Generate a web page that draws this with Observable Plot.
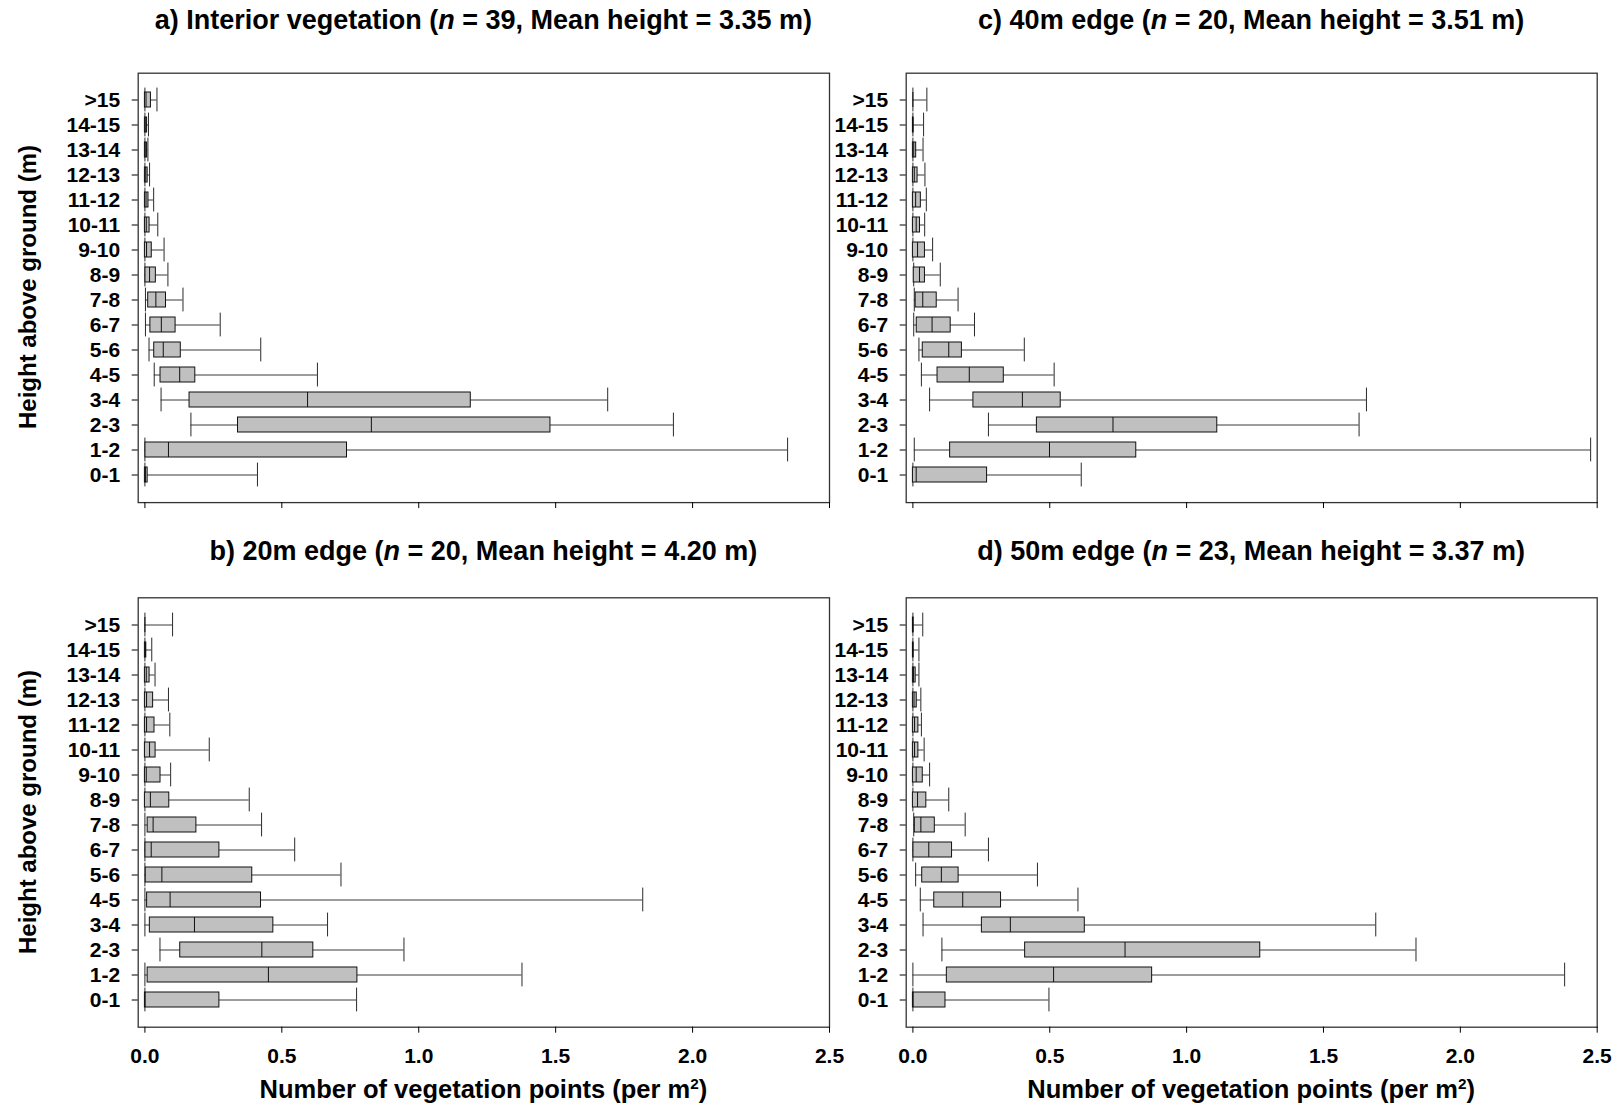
<!DOCTYPE html>
<html><head><meta charset="utf-8">
<script src="https://cdn.jsdelivr.net/npm/d3@7"></script>
<script src="https://cdn.jsdelivr.net/npm/@observablehq/plot@0.6"></script>
<style>
body{margin:0;background:#fff;}
#root{position:relative;width:1619px;height:1108px;overflow:hidden;font-family:"Liberation Sans",Arial,sans-serif;font-weight:bold;color:#000;background:#fff;}
.t{position:absolute;white-space:nowrap;transform:translate(-50%,-50%);font-size:27px;line-height:1;}
.xt{position:absolute;white-space:nowrap;transform:translate(-50%,-50%);font-size:25.5px;line-height:1;}
.yt{position:absolute;white-space:nowrap;transform:translate(-50%,-50%) rotate(-90deg);font-size:24px;line-height:1;}
.panel{position:absolute;}
sup{font-size:0.6em;vertical-align:super;line-height:0;}
</style></head><body><div id="root"></div>
<script>
// Height classes, top to bottom
const heightClasses = [">15","14-15","13-14","12-13","11-12","10-11","9-10","8-9","7-8","6-7","5-6","4-5","3-4","2-3","1-2","0-1"];
const xTicks = [0, 0.5, 1.0, 1.5, 2.0, 2.5];
const panelTitles = [
  "a) Interior vegetation (<i>n</i> = 39, Mean height = 3.35 m)",
  "b) 20m edge (<i>n</i> = 20, Mean height = 4.20 m)",
  "c) 40m edge (<i>n</i> = 20, Mean height = 3.51 m)",
  "d) 50m edge (<i>n</i> = 23, Mean height = 3.37 m)"
];
const xTitle = "Number of vegetation points (per m<sup>2</sup>)";
const yTitle = "Height above ground (m)";

// a) Interior vegetation
const aLo  = [0, 0, 0, 0, 0, 0, 0, 0, 0.002, 0.002, 0.015, 0.034, 0.059, 0.168, 0, 0];
const aQ1  = [0, 0, 0, 0, 0, 0, 0, 0.002, 0.012, 0.020, 0.034, 0.057, 0.163, 0.340, 0.002, 0];
const aMed = [0.004, 0.003, 0.003, 0.003, 0.004, 0.005, 0.006, 0.017, 0.040, 0.060, 0.067, 0.127, 0.594, 0.827, 0.086, 0.002];
const aQ3  = [0.022, 0.008, 0.008, 0.010, 0.013, 0.017, 0.025, 0.040, 0.077, 0.112, 0.131, 0.184, 1.190, 1.481, 0.738, 0.010];
const aHi  = [0.044, 0.013, 0.011, 0.017, 0.032, 0.047, 0.070, 0.084, 0.139, 0.275, 0.423, 0.630, 1.690, 1.930, 2.347, 0.411];

// b) 20m edge
const bLo  = [0, 0, 0, 0, 0, 0, 0, 0, 0, 0, 0, 0, 0, 0.055, 0, 0];
const bQ1  = [0, 0, 0, 0, 0, 0, 0, 0, 0.010, 0.002, 0.003, 0.008, 0.018, 0.129, 0.010, 0];
const bMed = [0, 0.002, 0.005, 0.006, 0.006, 0.017, 0.005, 0.020, 0.030, 0.023, 0.062, 0.092, 0.181, 0.427, 0.451, 0.001];
const bQ3  = [0, 0.005, 0.017, 0.030, 0.035, 0.039, 0.057, 0.089, 0.188, 0.272, 0.392, 0.424, 0.469, 0.615, 0.776, 0.272];
const bHi  = [0.101, 0.025, 0.037, 0.086, 0.091, 0.235, 0.094, 0.381, 0.426, 0.547, 0.716, 1.818, 0.667, 0.946, 1.377, 0.773];

// c) 40m edge
const cLo  = [0, 0, 0, 0, 0, 0, 0, 0.003, 0.005, 0.003, 0.022, 0.031, 0.061, 0.276, 0.005, 0];
const cQ1  = [0, 0, 0, 0, 0, 0, 0, 0.003, 0.010, 0.014, 0.036, 0.090, 0.221, 0.453, 0.136, 0];
const cMed = [0, 0, 0.003, 0.005, 0.010, 0.012, 0.017, 0.024, 0.036, 0.070, 0.131, 0.206, 0.400, 0.731, 0.499, 0.012];
const cQ3  = [0, 0.002, 0.012, 0.017, 0.029, 0.026, 0.044, 0.044, 0.087, 0.138, 0.179, 0.332, 0.540, 1.112, 0.816, 0.271];
const cHi  = [0.051, 0.039, 0.037, 0.044, 0.049, 0.043, 0.072, 0.100, 0.165, 0.225, 0.407, 0.516, 1.657, 1.630, 2.476, 0.615];

// d) 50m edge
const dLo  = [0, 0, 0, 0, 0, 0, 0, 0, 0.003, 0, 0.010, 0.027, 0.037, 0.106, 0, 0];
const dQ1  = [0, 0, 0, 0, 0, 0, 0, 0, 0.007, 0.002, 0.034, 0.078, 0.252, 0.410, 0.124, 0];
const dMed = [0, 0, 0.002, 0.004, 0.006, 0.006, 0.012, 0.017, 0.029, 0.058, 0.104, 0.182, 0.356, 0.775, 0.514, 0.001];
const dQ3  = [0.002, 0.002, 0.010, 0.014, 0.020, 0.020, 0.036, 0.049, 0.080, 0.143, 0.167, 0.322, 0.628, 1.269, 0.874, 0.119];
const dHi  = [0.036, 0.022, 0.022, 0.029, 0.031, 0.041, 0.061, 0.131, 0.191, 0.276, 0.455, 0.603, 1.691, 1.838, 2.381, 0.497];

const root = document.getElementById("root");
const FONT = '"Liberation Sans", Arial, sans-serif';

function panel(lo, q1, med, q3, hi, o) {
  const rows = heightClasses.map((h, i) => ({h, lo: lo[i], q1: q1[i], med: med[i], q3: q3[i], hi: hi[i]}));
  const svg = Plot.plot({
    width: o.width, height: o.height,
    marginLeft: o.mL, marginRight: o.mR, marginTop: o.mT, marginBottom: o.mB,
    style: {fontFamily: FONT, fontSize: "21px", fontWeight: "bold", color: "#000", background: "transparent", overflow: "visible"},
    x: {domain: [-0.0245, 2.5]},
    y: {type: "band", domain: heightClasses, paddingInner: 0.4, paddingOuter: 0.7},
    marks: [
      Plot.ruleY(rows, {y: "h", x1: "lo", x2: "hi", stroke: "#3a3a3a", strokeWidth: 1}),
      Plot.tickX(rows, {x: "lo", y: "h", insetTop: -4.4, insetBottom: -4.4, stroke: "#2a2a2a", strokeWidth: 1}),
      Plot.tickX(rows, {x: "hi", y: "h", insetTop: -4.4, insetBottom: -4.4, stroke: "#2a2a2a", strokeWidth: 1}),
      Plot.barX(rows, {y: "h", x1: "q1", x2: "q3", fill: "#c0c0c0", stroke: "#111", strokeWidth: 1}),
      Plot.tickX(rows, {x: "med", y: "h", stroke: "#111", strokeWidth: 1}),
      Plot.frame({stroke: "#333", strokeWidth: 1.3}),
      Plot.axisY({tickSize: 6, tickPadding: 12, label: null}),
      Plot.axisX({ticks: xTicks, tickSize: 6, tickPadding: 15, label: null,
        tickFormat: o.labels ? d3.format(".1f") : () => ""})
    ]
  });
  const wrap = document.createElement("div");
  wrap.className = "panel";
  wrap.style.left = o.left + "px";
  wrap.style.top = o.top + "px";
  wrap.appendChild(svg);
  root.appendChild(wrap);
}

function label(cls, html, x, y) {
  const d = document.createElement("div");
  d.className = cls;
  d.innerHTML = html;
  d.style.left = x + "px";
  d.style.top = y + "px";
  root.appendChild(d);
}

const leftGeo  = {left: 0,   width: 845, mL: 137.7, mR: 16};
const rightGeo = {left: 770, width: 849, mL: 135.7, mR: 22.3};
const topGeo    = {top: 60,  height: 460, mT: 12.7, mB: 17.9, labels: false};
const bottomGeo = {top: 585, height: 523, mT: 12.3, mB: 81.3, labels: true};

panel(aLo, aQ1, aMed, aQ3, aHi, {...leftGeo, ...topGeo});
panel(bLo, bQ1, bMed, bQ3, bHi, {...leftGeo, ...bottomGeo});
panel(cLo, cQ1, cMed, cQ3, cHi, {...rightGeo, ...topGeo});
panel(dLo, dQ1, dMed, dQ3, dHi, {...rightGeo, ...bottomGeo});

const leftCx = (137.7 + 829) / 2, rightCx = (905.7 + 1596.7) / 2;
label("t", panelTitles[0], leftCx, 20);
label("t", panelTitles[1], leftCx, 551);
label("t", panelTitles[2], rightCx, 20);
label("t", panelTitles[3], rightCx, 551);
label("xt", xTitle, leftCx, 1090);
label("xt", xTitle, rightCx, 1090);
label("yt", yTitle, 28, 287);
label("yt", yTitle, 28, 812);
</script></body></html>
